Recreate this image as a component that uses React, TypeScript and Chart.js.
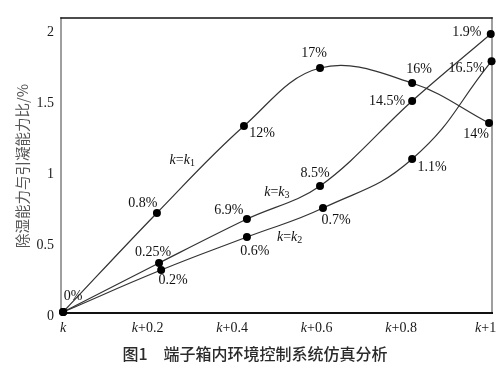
import React, { useEffect, useRef } from "react";
import { Chart, registerables } from "chart.js";
Chart.register(...registerables);

// ---- data ----
const k1X = [0, 0.222, 0.428, 0.608, 0.826, 1.008];
const k1Y = [0, 0.705, 1.324, 1.737, 1.63, 1.345];
const k1Labels = ["0%", "0.8%", "12%", "17%", "16%", "14%"];

const k3X = [0, 0.227, 0.435, 0.608, 0.826, 1.012];
const k3Y = [0, 0.349, 0.662, 0.897, 1.502, 1.979];
const k3Labels = ["", "0.25%", "6.9%", "8.5%", "14.5%", "1.9%"];

const k2X = [0, 0.232, 0.435, 0.615, 0.826, 1.014];
const k2Y = [0, 0.299, 0.534, 0.74, 1.089, 1.786];
const k2Labels = ["", "0.2%", "0.6%", "0.7%", "1.1%", "16.5%"];

const xTickValues = [0, 0.2, 0.4, 0.6, 0.8, 1];
const xTickSuffix = ["", "+0.2", "+0.4", "+0.6", "+0.8", "+1"];
const yTickValues = [0, 0.5, 1, 1.5, 2];
const yTickLabels = ["0", "0.5", "1", "1.5", "2"];

const yTitle = "除湿能力与引凝能力比/%";
const caption = "图1　端子箱内环境控制系统仿真分析";

// ---- styling (label offsets in px) ----
const k1Off = [[10, -16], [-14, -10], [18, 7], [-6, -15], [7, -14], [-13, 11]];
const k3Off = [[0, 0], [-6, -11], [-18, -9], [-5, -13], [-25, 0], [-24, -2]];
const k2Off = [[0, 0], [12, 10], [8, 14], [13, 12], [20, 8], [-25, 7]];

const SERIF = "'Liberation Serif', 'Times New Roman', serif";

type Seg = { t: string; it?: boolean; sub?: boolean };

function drawSegs(ctx: CanvasRenderingContext2D, segs: Seg[], cx: number, cy: number, size: number) {
  const fontFor = (s: Seg) => `${s.it ? "italic " : ""}${s.sub ? Math.round(size * 0.7) : size}px ${SERIF}`;
  let w = 0;
  for (const s of segs) {
    ctx.font = fontFor(s);
    w += ctx.measureText(s.t).width;
  }
  let x = cx - w / 2;
  ctx.textAlign = "left";
  ctx.textBaseline = "middle";
  for (const s of segs) {
    ctx.font = fontFor(s);
    ctx.fillText(s.t, x, s.sub ? cy + size * 0.22 : cy);
    x += ctx.measureText(s.t).width;
  }
}

const overlay = {
  id: "overlay",
  beforeDatasetsDraw(chart: any) {
    const { ctx, chartArea: a } = chart;
    ctx.save();
    ctx.lineCap = "square";
    ctx.strokeStyle = "#808080";
    ctx.lineWidth = 1.5;
    ctx.beginPath();
    ctx.moveTo(a.left, a.top);
    ctx.lineTo(a.left, a.bottom);
    ctx.moveTo(a.right, a.top);
    ctx.lineTo(a.right, a.bottom);
    ctx.stroke();
    ctx.strokeStyle = "#111";
    ctx.lineWidth = 1.5;
    ctx.beginPath();
    ctx.moveTo(a.left, a.top);
    ctx.lineTo(a.right, a.top);
    ctx.stroke();
    ctx.lineWidth = 2;
    ctx.beginPath();
    ctx.moveTo(a.left, a.bottom);
    ctx.lineTo(a.right, a.bottom);
    ctx.stroke();
    ctx.restore();
  },
  afterDraw(chart: any) {
    const { ctx, chartArea: a, scales } = chart;
    const xs = scales.x;
    const ys = scales.y;
    ctx.save();
    ctx.fillStyle = "#1a1a1a";
    xTickValues.forEach((v, i) => {
      const px = xs.getPixelForValue(v);
      drawSegs(ctx, [{ t: "k", it: true }, { t: xTickSuffix[i] }], px, a.bottom + 15, 14);
    });
    ctx.font = `14px ${SERIF}`;
    yTickValues.forEach((v, i) => {
      const py = ys.getPixelForValue(v);
      ctx.textAlign = "right";
      ctx.textBaseline = "middle";
      ctx.fillText(yTickLabels[i], a.left - 7, py + 4 - i * 0.8);
    });
    const sets: [number[], number[], string[], number[][]][] = [
      [k1X, k1Y, k1Labels, k1Off],
      [k3X, k3Y, k3Labels, k3Off],
      [k2X, k2Y, k2Labels, k2Off],
    ];
    ctx.fillStyle = "#111";
    for (const [X, Y, L, O] of sets) {
      X.forEach((xv, i) => {
        if (!L[i]) return;
        const px = xs.getPixelForValue(xv) + O[i][0];
        const py = ys.getPixelForValue(Y[i]) + O[i][1];
        drawSegs(ctx, [{ t: L[i] }], px, py, 14);
      });
    }
    const nameAt = (sub: string, xv: number, yv: number) => {
      drawSegs(ctx, [{ t: "k", it: true }, { t: "=" }, { t: "k", it: true }, { t: sub, sub: true }],
        xs.getPixelForValue(xv), ys.getPixelForValue(yv), 14);
    };
    nameAt("1", 0.282, 1.083);
    nameAt("3", 0.506, 0.855);
    nameAt("2", 0.536, 0.535);
    ctx.save();
    ctx.translate(22, 166);
    ctx.rotate(-Math.PI / 2);
    ctx.font = "14.5px 'Noto Sans CJK SC'";
    ctx.fillStyle = "#555";
    ctx.textAlign = "center";
    ctx.textBaseline = "middle";
    ctx.fillText(yTitle, 0, 0);
    ctx.restore();
    ctx.font = "500 16px 'Noto Sans CJK SC'";
    ctx.fillStyle = "#2a2a2a";
    ctx.textAlign = "center";
    ctx.textBaseline = "middle";
    ctx.fillText(caption, 255, 354);
    ctx.restore();
  },
};

const mk = (X: number[], Y: number[], tension: number) => ({
  data: X.map((x, i) => ({ x, y: Y[i] })),
  borderColor: "#333",
  borderWidth: 1.2,
  pointRadius: 4,
  pointBorderWidth: 0,
  pointBackgroundColor: "#000",
  tension,
  clip: false as any,
});

export default function App() {
  const ref = useRef<HTMLCanvasElement>(null);
  useEffect(() => {
    const chart = new Chart(ref.current!, {
      type: "line",
      data: {
        datasets: [mk(k1X, k1Y, 0.38), mk(k3X, k3Y, 0.35), mk(k2X, k2Y, 0.45)] as any,
      },
      options: {
        animation: false,
        responsive: false,
        events: [],
        layout: { padding: { left: 61, top: 18, right: 11, bottom: 54 } },
        plugins: { legend: { display: false }, tooltip: { enabled: false }, title: { display: false } },
        scales: {
          x: { type: "linear", min: -0.005, max: 1.015, display: false },
          y: { type: "linear", min: -0.007, max: 2.093, display: false },
        },
      },
      plugins: [overlay],
    });
    return () => chart.destroy();
  }, []);
  return (
    <div style={{ position: "absolute", left: 0, top: 0, width: 503, height: 367, background: "#fff" }}>
      <canvas ref={ref} width={503} height={367} />
    </div>
  );
}
